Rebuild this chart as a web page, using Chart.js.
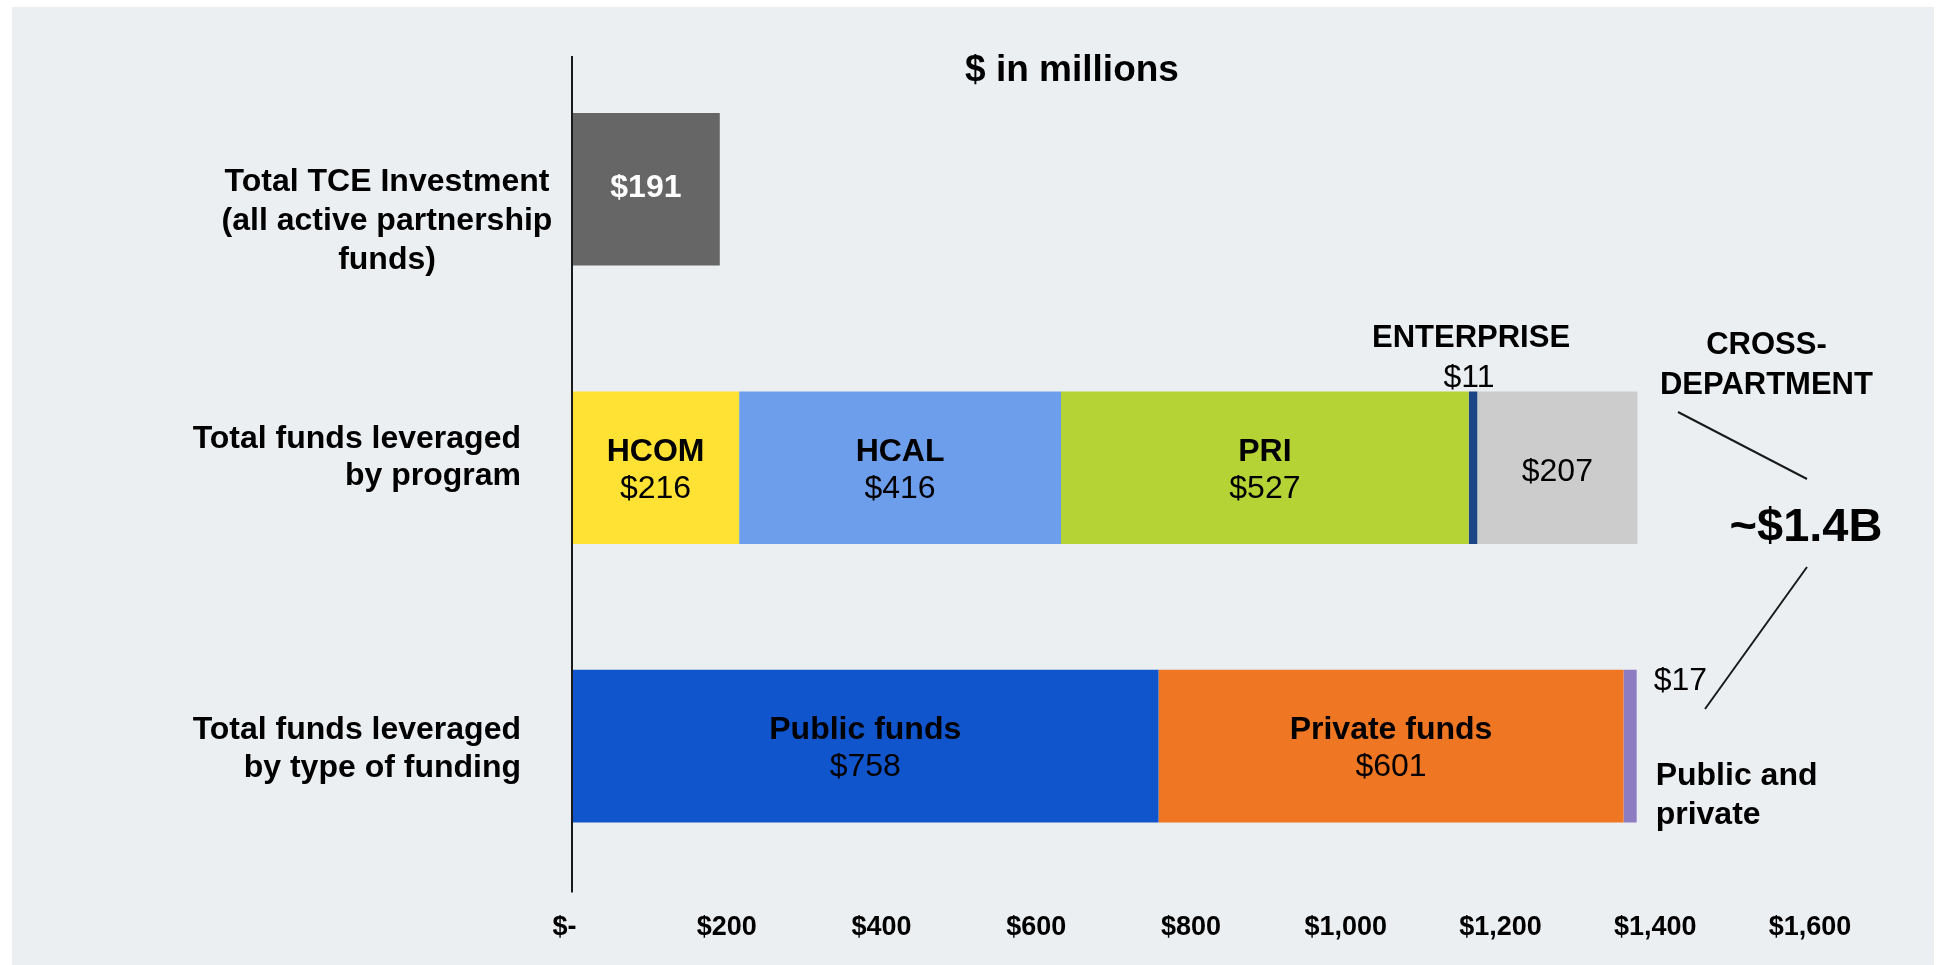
<!DOCTYPE html>
<html>
<head>
<meta charset="utf-8">
<title>Funds leveraged</title>
<script src="https://cdn.jsdelivr.net/npm/chart.js@4/dist/chart.umd.min.js"></script>
<style>
  html, body { margin: 0; background: #ffffff; }
  #panel { position: absolute; left: 12px; top: 7px; width: 1922px; height: 958px; background: #eceff1; }
</style>
</head>
<body>
<div id="panel"><canvas id="chart" width="1922" height="958"></canvas></div>
<script>
// rows of the chart (top to bottom)
const rowLabels = [
  ["Total TCE Investment", "(all active partnership", "funds)"],
  ["Total funds leveraged", "by program"],
  ["Total funds leveraged", "by type of funding"]
]

// bar segments, in stacking order
const segmentNames = ["TCE", "HCOM", "HCAL", "PRI", "ENTERPRISE", "CROSS-DEPARTMENT", "Public funds", "Private funds", "Public and private"]
const segmentValues = [191, 216, 416, 527, 11, 207, 758, 601, 17]
const segmentRows = [0, 1, 1, 1, 1, 1, 2, 2, 2]

// x axis, $ in millions
const xTicks = [0, 200, 400, 600, 800, 1000, 1200, 1400, 1600]
const totalLabel = "~$1.4B"

const segmentColors = {
  "TCE": "#666666",
  "HCOM": "#ffe234",
  "HCAL": "#6d9eeb",
  "PRI": "#b5d334",
  "ENTERPRISE": "#1c4587",
  "CROSS-DEPARTMENT": "#cccccc",
  "Public funds": "#1155cc",
  "Private funds": "#ef7623",
  "Public and private": "#8e7cc3"
}

const FONT = "'Liberation Sans', Arial, sans-serif"
const money = (v) => (v === 0 ? "$-  " : "$" + v.toLocaleString("en-US"))

const datasets = segmentNames.map((name, i) => {
  const data = rowLabels.map((_, row) => (row === segmentRows[i] ? segmentValues[i] : null))
  return {
    label: name,
    data: data,
    backgroundColor: segmentColors[name],
    borderWidth: 0,
    barPercentage: 0.548,
    categoryPercentage: 1
  }
})

function text(ctx, str, x, y, size, bold, align, color) {
  ctx.font = (bold ? "bold " : "") + size + "px " + FONT
  ctx.textAlign = align || "center"
  ctx.textBaseline = "middle"
  ctx.fillStyle = color || "#000000"
  ctx.fillText(str, x, y)
}

function line(ctx, x1, y1, x2, y2, width) {
  ctx.beginPath()
  ctx.moveTo(x1, y1)
  ctx.lineTo(x2, y2)
  ctx.lineWidth = width
  ctx.strokeStyle = "#1a1a1a"
  ctx.stroke()
}

const annotations = {
  id: "annotations",
  afterDatasetsDraw(chart) {
    const ctx = chart.ctx
    const area = chart.chartArea
    const xScale = chart.scales.x
    const yScale = chart.scales.y
    ctx.save()

    // zero axis line
    const x0 = xScale.getPixelForValue(0)
    line(ctx, x0, area.top + 6, x0, area.bottom + 7, 2)

    // title
    text(ctx, "$ in millions", 1060, 64, 37, true)

    // row labels
    const c0 = yScale.getPixelForValue(0)
    text(ctx, rowLabels[0][0], 375, c0 - 7, 32, true)
    text(ctx, rowLabels[0][1], 375, c0 + 32, 32, true)
    text(ctx, rowLabels[0][2], 375, c0 + 71, 32, true)
    const c1 = yScale.getPixelForValue(1)
    text(ctx, rowLabels[1][0], 509, c1 - 29, 32, true, "right")
    text(ctx, rowLabels[1][1], 509, c1 + 8, 32, true, "right")
    const c2 = yScale.getPixelForValue(2)
    text(ctx, rowLabels[2][0], 509, c2 - 16, 32, true, "right")
    text(ctx, rowLabels[2][1], 509, c2 + 22, 32, true, "right")

    // segment labels
    segmentNames.forEach((name, i) => {
      const bar = chart.getDatasetMeta(i).data[segmentRows[i]]
      if (!bar) return
      const cx = (bar.x + bar.base) / 2
      const top = bar.y - bar.height / 2
      const right = Math.max(bar.x, bar.base)
      const value = money(segmentValues[i])
      if (name === "TCE") {
        text(ctx, value, cx, bar.y - 1, 32, true, "center", "#ffffff")
      } else if (name === "ENTERPRISE") {
        text(ctx, name, cx - 2, top - 53, 31, true)
        text(ctx, value, cx - 4, top - 13, 32, false)
      } else if (name === "CROSS-DEPARTMENT") {
        text(ctx, value, cx, bar.y + 4, 32, false)
        text(ctx, "CROSS-", right + 129, top - 46, 31, true)
        text(ctx, "DEPARTMENT", right + 129, top - 6, 31, true)
      } else if (name === "Public and private") {
        text(ctx, value, right + 17, top + 11, 32, false, "left")
        text(ctx, "Public and", right + 19, top + 106, 32, true, "left")
        text(ctx, "private", right + 19, top + 145, 32, true, "left")
      } else {
        text(ctx, name, cx, bar.y - 16, 32, true)
        text(ctx, value, cx, bar.y + 21, 32, false)
      }
    })

    // total callout
    const xr = xScale.right
    text(ctx, totalLabel, xr - 4, 521, 47, true)
    line(ctx, xr - 132, 405, xr - 3, 472, 2)
    line(ctx, xr - 3, 560, xr - 105, 702, 2)

    ctx.restore()
  }
}

new Chart(document.getElementById("chart"), {
  type: "bar",
  data: {
    labels: rowLabels.map((l) => l.join(" ")),
    datasets: datasets
  },
  options: {
    indexAxis: "y",
    responsive: false,
    animation: false,
    events: [],
    layout: {
      padding: { left: 560, right: 124, top: 43, bottom: 24 }
    },
    plugins: {
      legend: { display: false },
      tooltip: { enabled: false }
    },
    scales: {
      x: {
        stacked: true,
        min: 0,
        max: 1600,
        afterBuildTicks: (scale) => {
          scale.ticks = xTicks.map((v) => ({ value: v }))
        },
        afterFit: (scale) => {
          scale.height = 55.6
        },
        ticks: {
          autoSkip: false,
          maxRotation: 0,
          padding: 18,
          color: "#000000",
          font: { family: FONT, size: 27, weight: "bold" },
          callback: (v) => money(v)
        },
        grid: { display: false },
        border: { display: false }
      },
      y: {
        stacked: true,
        display: false
      }
    }
  },
  plugins: [annotations]
})
</script>
</body>
</html>
